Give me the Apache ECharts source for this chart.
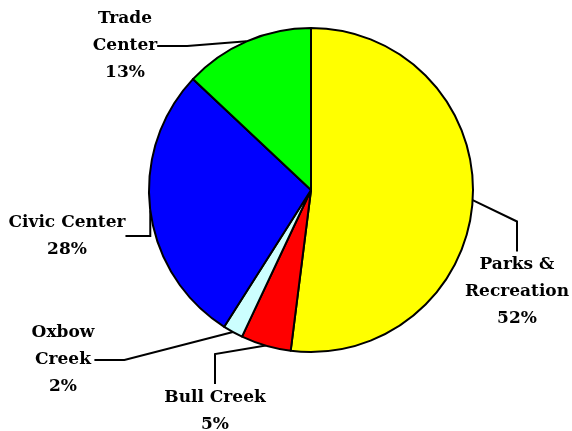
<!DOCTYPE html>
<html>
<head>
<meta charset="utf-8">
<script src="https://cdn.jsdelivr.net/npm/echarts@6/dist/echarts.min.js"></script>
<style>
  html, body { margin: 0; padding: 0; background: #fff; }
  #main { width: 572px; height: 431px; }
</style>
</head>
<body>
<div id="main"></div>
<script>
  // slice names (clockwise from 12 o'clock) and their shares
  var names = ['Parks &\nRecreation', 'Bull Creek', 'Oxbow\nCreek', 'Civic Center', 'Trade\nCenter'];
  var values = [52, 5, 2, 28, 13];
  var colors = ['#FFFF00', '#FF0000', '#CCFFFF', '#0000FF', '#00FF00'];
  // label centres (px)
  var labelPos = [[517, 292], [215, 411], [63, 360], [67, 236], [125, 46]];

  var myChart = echarts.init(document.getElementById('main'));
  myChart.setOption({
    animation: false,
    series: [{
      type: 'pie',
      center: [311, 190],
      radius: 162,
      startAngle: 90,
      clockwise: true,
      percentPrecision: 0,
      itemStyle: { borderColor: '#000', borderWidth: 2 },
      label: {
        show: true,
        position: 'outside',
        formatter: '{b}\n{d}%',
        fontFamily: 'DejaVu Serif',
        fontWeight: 'bold',
        fontSize: 17,
        lineHeight: 27,
        color: '#000',
        align: 'center',
        overflow: 'none'
      },
      labelLine: { show: true, lineStyle: { color: '#000', width: 2 } },
      labelLayout: function (p) {
        var pos = labelPos[p.dataIndex];
        return { x: pos[0], y: pos[1], align: 'center', verticalAlign: 'middle' };
      },
      emphasis: { disabled: true },
      data: values.map(function (v, i) {
        return { value: v, name: names[i], itemStyle: { color: colors[i] } };
      })
    }]
  });
</script>
</body>
</html>
